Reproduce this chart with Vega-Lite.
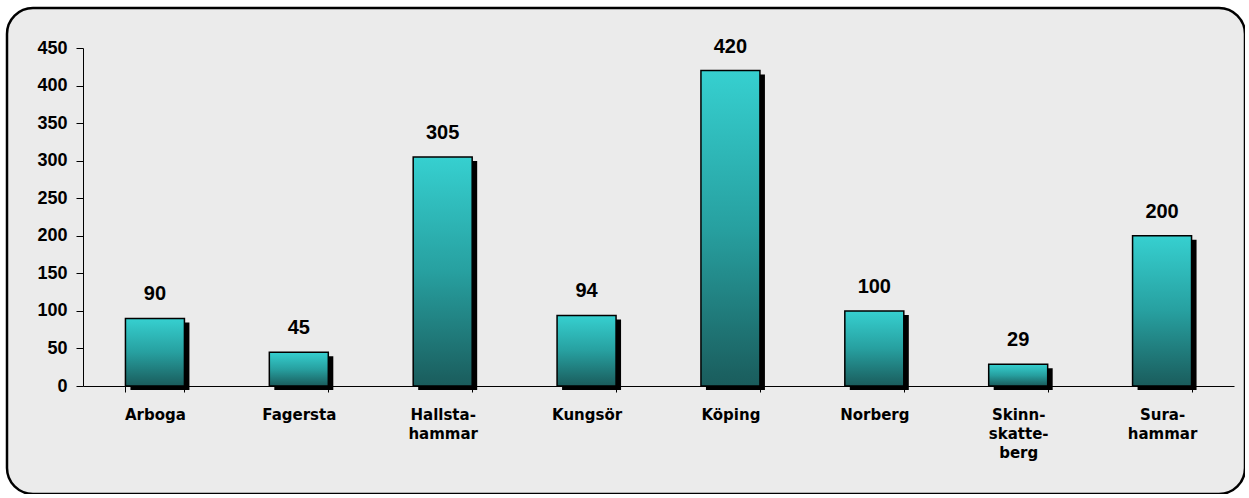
{
  "$schema": "https://vega.github.io/schema/vega-lite/v6.json",
  "autosize": {"type": "none"},
  "padding": {"left": 7, "top": 8, "right": 0, "bottom": 0},
  "width": 1238,
  "height": 486,
  "background": "#ffffff",
  "config": {
    "view": {"fill": "#ebebeb", "stroke": "#000000", "strokeWidth": 2.5, "cornerRadius": 26},
    "font": "Liberation Sans"
  },
  "data": {
    "values": [
      {"kommun": "Arboga", "antal": 90},
      {"kommun": "Fagersta", "antal": 45},
      {"kommun": "Hallsta-\nhammar", "antal": 305},
      {"kommun": "Kungsör", "antal": 94},
      {"kommun": "Köping", "antal": 420},
      {"kommun": "Norberg", "antal": 100},
      {"kommun": "Skinn-\nskatte-\nberg", "antal": 29},
      {"kommun": "Sura-\nhammar", "antal": 200}
    ]
  },
  "encoding": {
    "x": {
      "field": "kommun",
      "type": "nominal",
      "sort": null,
      "scale": {"range": [76, 1227], "paddingInner": 0.59, "paddingOuter": 0.295},
      "axis": {
        "title": null,
        "offset": -108,
        "labelAngle": 0,
        "labelExpr": "split(datum.label, '\\n')",
        "labelFont": "DejaVu Sans",
        "labelFontWeight": "bold",
        "labelFontSize": 15,
        "labelColor": "#000000",
        "labelLineHeight": 19,
        "labelBaseline": "top",
        "labelPadding": 15,
        "tickBand": "extent",
        "tickSize": 6,
        "tickColor": "#000000",
        "domainColor": "#000000",
        "labelOverlap": false
      }
    },
    "y": {
      "field": "antal",
      "type": "quantitative",
      "scale": {"domain": [0, 450], "range": [378, 40], "nice": false},
      "axis": {
        "title": null,
        "offset": -76,
        "values": [0, 50, 100, 150, 200, 250, 300, 350, 400, 450],
        "grid": false,
        "labelFont": "Liberation Sans",
        "labelFontWeight": "bold",
        "labelFontSize": 18,
        "labelColor": "#000000",
        "labelPadding": 9,
        "tickSize": 7,
        "tickColor": "#000000",
        "domainColor": "#000000"
      }
    }
  },
  "layer": [
    {
      "mark": {"type": "bar", "color": "#000000", "xOffset": 5, "yOffset": 4, "y2Offset": 0}
    },
    {
      "mark": {
        "type": "bar",
        "stroke": "#000000",
        "strokeWidth": 1.5,
        "color": {
          "gradient": "linear",
          "x1": 0, "y1": 0, "x2": 0, "y2": 1,
          "stops": [
            {"offset": 0, "color": "#36d0d0"},
            {"offset": 0.5, "color": "#27a0a0"},
            {"offset": 1, "color": "#1a5c5c"}
          ]
        }
      }
    },
    {
      "mark": {"type": "text", "dy": -18, "baseline": "alphabetic", "font": "Liberation Sans", "fontWeight": "bold", "fontSize": 20, "color": "#000000"},
      "encoding": {"text": {"field": "antal", "type": "quantitative"}}
    }
  ]
}
